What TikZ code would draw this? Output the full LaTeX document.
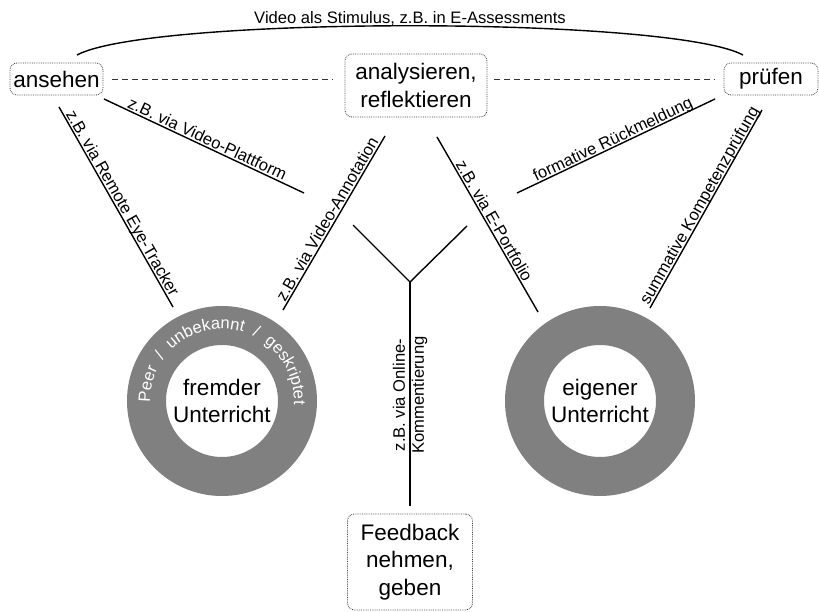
\documentclass[tikz,border=0pt]{standalone}
\usepackage{fontspec}
\setmainfont{Liberation Sans}
\usetikzlibrary{decorations.text}

\definecolor{ringgrau}{gray}{0.5}
\newcommand{\boxfont}{\fontsize{22.5}{27.5}\selectfont}
\newcommand{\labelfont}{\fontsize{16.6}{19}\selectfont}

\tikzset{
  kasten/.style={draw=black!75,densely dotted,line width=0.8pt,
    rounded corners=7pt,align=center,font=\boxfont,inner sep=2pt},
  ring/.style={circle,draw=ringgrau,line width=39pt,minimum size=151pt,
    align=center,font=\boxfont,inner sep=0pt},
  weg/.style={line width=1.4pt},
  gestrichelt/.style={line width=0.9pt,black!80,dash pattern=on 6pt off 4pt},
  wegtext/.style={sloped,above,inner sep=1.5pt,text depth=0pt,font=\labelfont},
}

\begin{document}
\begin{tikzpicture}[x=1pt,y=1pt]
\useasboundingbox (0,0) rectangle (819,611);
% Taetigkeiten
\node[kasten,minimum width=93pt,minimum height=32pt] (ansehen) at (56.5,532) {ansehen};
\node[kasten,minimum width=142pt,minimum height=63pt] (analys) at (416,525.5) {analysieren,\\reflektieren};
\node[kasten,minimum width=94pt,minimum height=32pt] (pruefen) at (771,532) {prüfen};
\node[kasten,minimum width=125pt,minimum height=96pt] (feedback) at (410,49) {Feedback\\nehmen,\\geben};
% Unterricht (Ringe)
\node[ring] (fremder) at (222,210) {fremder\\Unterricht};
\node[ring] (eigener) at (600,210) {eigener\\Unterricht};
\path[decorate,decoration={text along path,text color=white,
    text align={fit to path stretching spaces},
    text={|\labelfont|Peer / unbekannt / geskriptet}}]
  (fremder.center) ++(181:72) arc[start angle=181,end angle=-3,radius=72];
% Bogen oben
\coordinate (boglinks) at (77,556);
\coordinate (bogrechts) at (743,556);
\draw[weg] (boglinks) .. controls (150,595) and (670,595) .. (bogrechts)
  node[wegtext,pos=0.5] {Video als Stimulus, z.B. in E-Assessments};
% gestrichelte Verbindungen
\draw[gestrichelt,shorten <=9pt,shorten >=12pt] (ansehen.east) -- (ansehen.east -| analys.west);
\draw[gestrichelt,shorten <=7pt,shorten >=9pt] (analys.east |- pruefen.west) -- (pruefen.west);
% Wege mit Beschriftung
\coordinate (a1) at (59,504);   \coordinate (a2) at (173,304);
\coordinate (b1) at (104,512);  \coordinate (b2) at (304,418);
\coordinate (c1) at (283,301);  \coordinate (c2) at (385,475);
\coordinate (d1) at (437,474);  \coordinate (d2) at (538,299);
\coordinate (e1) at (517,418);  \coordinate (e2) at (715,512);
\coordinate (f1) at (650,303);  \coordinate (f2) at (762,501);
\draw[weg] (a1) -- (a2) node[wegtext,midway] {z.B. via Remote Eye-Tracker};
\draw[weg] (b1) -- (b2) node[wegtext,midway] {z.B. via Video-Plattform};
\draw[weg] (c1) -- (c2) node[wegtext,midway] {z.B. via Video-Annotation};
\draw[weg] (d1) -- (d2) node[wegtext,midway] {z.B. via E-Portfolio};
\draw[weg] (e1) -- (e2) node[wegtext,midway] {formative Rückmeldung};
\draw[weg] (f1) -- (f2) node[wegtext,midway] {summative Kompetenzprüfung};
% Gabel zum Feedback
\coordinate (yknoten) at (410,329);
\coordinate (ylinks) at (353,386);
\coordinate (yrechts) at (467,385);
\draw[weg] (ylinks) -- (yknoten) -- (yrechts);
\draw[weg,shorten >=8pt] (yknoten) -- (feedback);
\node[font=\labelfont,rotate=90,align=center] (online) at (410,216) {z.B. via Online-\\Kommentierung};
\end{tikzpicture}
\end{document}
